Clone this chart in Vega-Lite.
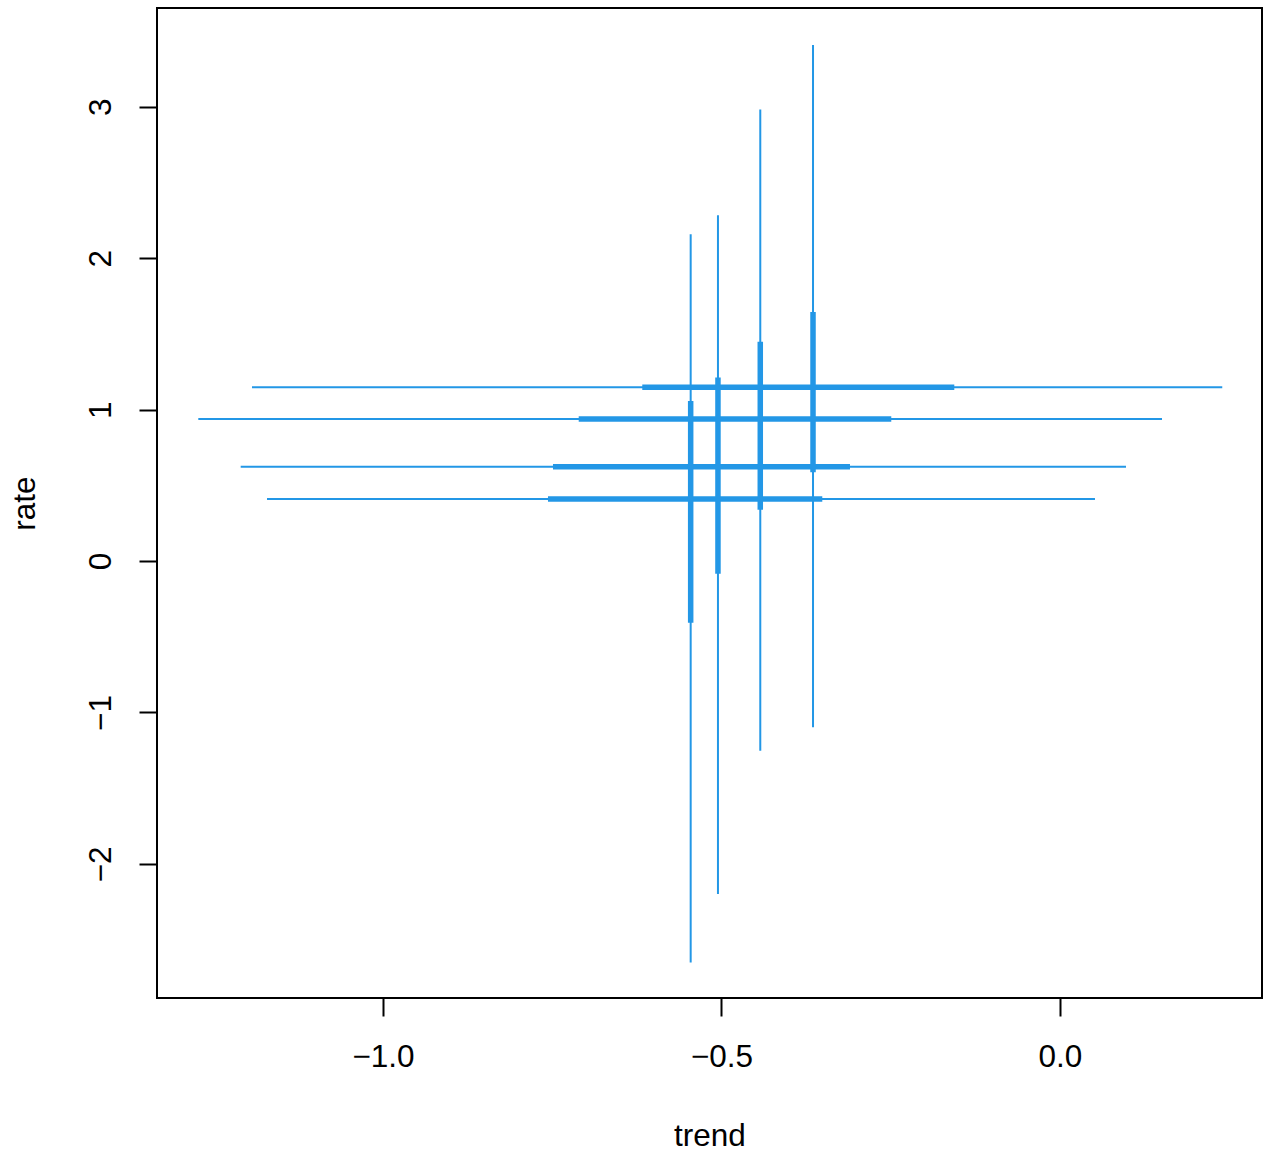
{
  "$schema": "https://vega.github.io/schema/vega-lite/v6.json",
  "width": 1105,
  "height": 990,
  "autosize": {"type": "none"},
  "padding": {"left": 157, "top": 8, "right": 1, "bottom": 155},
  "background": "white",
  "config": {
    "view": {"stroke": "black", "strokeWidth": 2},
    "axis": {
      "domain": false,
      "grid": false,
      "tickColor": "black",
      "tickWidth": 2,
      "tickSize": 18,
      "labelColor": "black",
      "labelFont": "Liberation Sans",
      "labelFontSize": 31.5,
      "titleFont": "Liberation Sans",
      "titleFontSize": 31.5,
      "titleFontWeight": "normal",
      "titleColor": "black"
    }
  },
  "data": {
    "values": [
      {"trend": -0.5455, "rate": 0.4095, "t_lo": -1.1713, "t_hi": 0.0517, "t_lo50": -0.7563, "t_hi50": -0.3511, "r_lo": -2.651, "r_hi": 2.158, "r_lo50": -0.408, "r_hi50": 1.057},
      {"trend": -0.5052, "rate": 0.623, "t_lo": -1.2102, "t_hi": 0.0975, "t_lo50": -0.7489, "t_hi50": -0.3102, "r_lo": -2.199, "r_hi": 2.283, "r_lo50": -0.084, "r_hi50": 1.213},
      {"trend": -0.4427, "rate": 0.938, "t_lo": -1.2728, "t_hi": 0.1507, "t_lo50": -0.7109, "t_hi50": -0.2492, "r_lo": -1.253, "r_hi": 2.983, "r_lo50": 0.339, "r_hi50": 1.448},
      {"trend": -0.3648, "rate": 1.147, "t_lo": -1.1935, "t_hi": 0.2397, "t_lo50": -0.617, "t_hi50": -0.1561, "r_lo": -1.098, "r_hi": 3.408, "r_lo50": 0.586, "r_hi50": 1.645}
    ]
  },
  "layer": [
    {
      "mark": {"type": "rule", "strokeWidth": 2, "color": "#2397e6", "strokeCap": "butt"},
      "encoding": {
        "x": {"field": "t_lo", "type": "quantitative",
              "scale": {"domain": [-1.3338, 0.2984], "nice": false, "zero": false},
              "axis": {"title": "trend", "values": [-1, -0.5, 0], "format": ".1f", "labelPadding": 25, "titlePadding": 48}},
        "x2": {"field": "t_hi"},
        "y": {"field": "rate", "type": "quantitative",
              "scale": {"domain": [-2.886, 3.6526], "nice": false, "zero": false},
              "axis": {"title": "rate", "values": [-2, -1, 0, 1, 2, 3], "format": "d", "labelAngle": -90, "labelAlign": "center", "labelBaseline": "bottom", "labelPadding": 22, "titlePadding": 44}}
      }
    },
    {
      "mark": {"type": "rule", "strokeWidth": 5.5, "color": "#2397e6", "strokeCap": "butt"},
      "encoding": {
        "x": {"field": "t_lo50", "type": "quantitative"},
        "x2": {"field": "t_hi50"},
        "y": {"field": "rate", "type": "quantitative"}
      }
    },
    {
      "mark": {"type": "rule", "strokeWidth": 2, "color": "#2397e6", "strokeCap": "butt"},
      "encoding": {
        "x": {"field": "trend", "type": "quantitative"},
        "y": {"field": "r_lo", "type": "quantitative"},
        "y2": {"field": "r_hi"}
      }
    },
    {
      "mark": {"type": "rule", "strokeWidth": 5.5, "color": "#2397e6", "strokeCap": "butt"},
      "encoding": {
        "x": {"field": "trend", "type": "quantitative"},
        "y": {"field": "r_lo50", "type": "quantitative"},
        "y2": {"field": "r_hi50"}
      }
    }
  ]
}
